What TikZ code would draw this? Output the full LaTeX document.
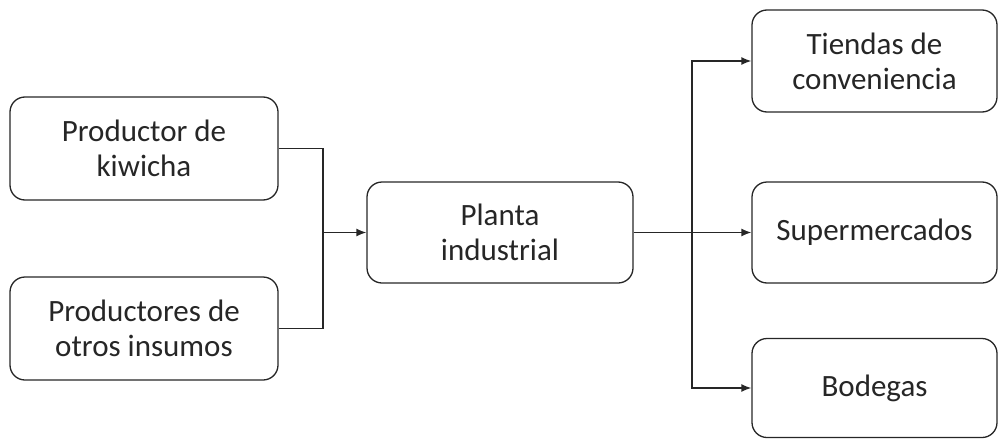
\documentclass[tikz,border=0pt]{standalone}
\usepackage{fontspec}
\setmainfont{Carlito}
\usetikzlibrary{arrows.meta}
\definecolor{ink}{HTML}{262626}
\begin{document}
\begin{tikzpicture}[x=1pt,y=-1pt,
  box/.style={draw=ink,line width=1.3pt,rounded corners=15pt,inner sep=0pt,
    align=center,text=ink,font=\fontsize{31}{35}\selectfont},
  conn/.style={draw=ink,line width=1.5pt},
  arr/.style={conn,-{Latex[length=10pt,width=8pt]}}]
\useasboundingbox (0,0) rectangle (1008,439);
\node[box,minimum width=268pt,minimum height=103pt] (prod) at (144,148.5) {Productor de\\kiwicha};
\node[box,minimum width=268pt,minimum height=103pt] (otros) at (144,328.5) {Productores de\\otros insumos};
\node[box,minimum width=266pt,minimum height=101pt] (planta) at (500,232.5) {Planta\\industrial};
\node[box,minimum width=245pt,minimum height=102pt] (tiendas) at (874.5,61) {Tiendas de\\conveniencia};
\node[box,minimum width=245pt,minimum height=101pt] (super) at (874.5,232.5) {Supermercados};
\node[box,minimum width=245pt,minimum height=99pt] (bodegas) at (874.5,388) {Bodegas};
\coordinate (j) at (323,232.5);
\coordinate (k) at (692,232.5);
\draw[conn] (prod.east) -| (j);
\draw[conn] (otros.east) -| (j);
\draw[arr] (j) -- (planta.west);
\draw[arr] (planta.east) -- (super.west);
\draw[arr] (k) |- (tiendas.west);
\draw[arr] (k) |- (bodegas.west);
\end{tikzpicture}
\end{document}
